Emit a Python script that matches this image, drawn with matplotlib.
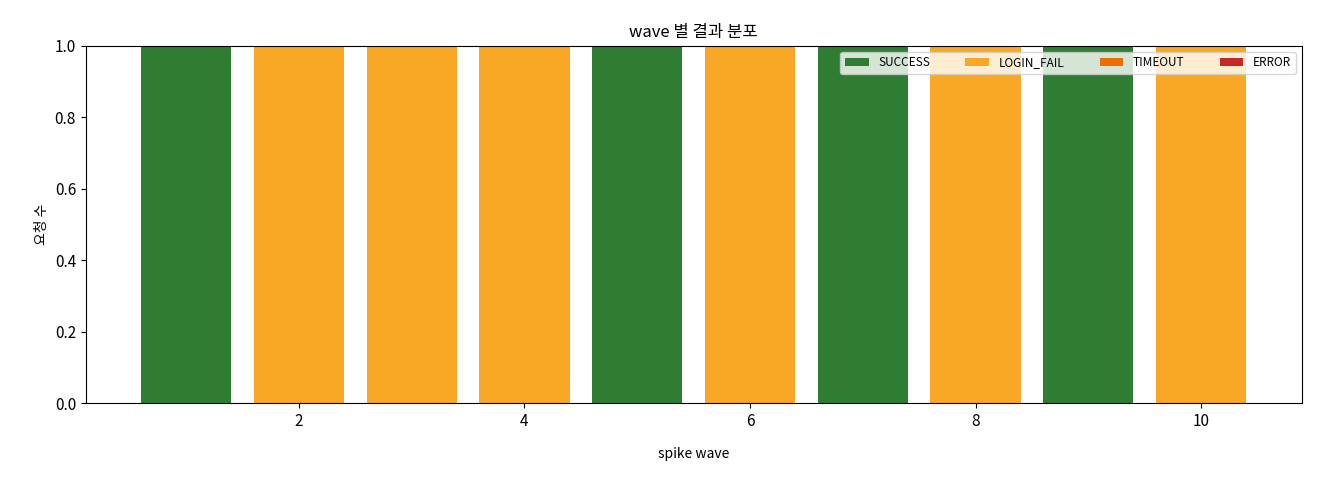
import matplotlib
matplotlib.use("Agg")
import matplotlib.pyplot as plt
import numpy as np

plt.rcParams['font.family'] = ['Noto Sans CJK KR', 'DejaVu Sans']

waves = [1, 2, 3, 4, 5, 6, 7, 8, 9, 10]
success = [1, 0, 0, 0, 1, 0, 1, 0, 1, 0]
login_fail = [0, 1, 1, 1, 0, 1, 0, 1, 0, 1]
timeout = [0, 0, 0, 0, 0, 0, 0, 0, 0, 0]
error = [0, 0, 0, 0, 0, 0, 0, 0, 0, 0]

series = [("SUCCESS", success, "#2e7d32"),
          ("LOGIN_FAIL", login_fail, "#f9a825"),
          ("TIMEOUT", timeout, "#ef6c00"),
          ("ERROR", error, "#c62828")]

fig, ax = plt.subplots(figsize=(13.2, 4.8), dpi=100)
bottom = np.zeros(len(waves))
for name, vals, c in series:
    ax.bar(waves, vals, bottom=bottom, color=c, label=name, width=0.8)
    bottom += np.array(vals)

ax.set_ylim(0, 1.0)
ax.tick_params(labelsize=11)
ax.set_title("wave 별 결과 분포", fontsize=12)
ax.set_xlabel("spike wave", labelpad=12)
ax.set_ylabel("요청 수")
ax.legend(loc="upper right", ncol=4, fontsize=8.5, columnspacing=3.0)
fig.subplots_adjust(left=0.065, right=0.986, top=0.905, bottom=0.16)
fig.savefig("out.png")
